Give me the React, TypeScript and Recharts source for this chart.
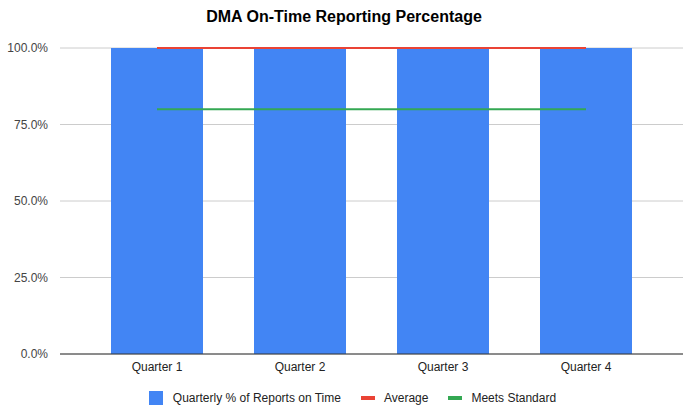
import React from "react";
import { ComposedChart, Bar, Line, XAxis, YAxis, CartesianGrid, Legend } from "recharts";

const quarters = ["Quarter 1", "Quarter 2", "Quarter 3", "Quarter 4"];
const onTime = [100, 100, 100, 100];
const average = [100, 100, 100, 100];
const meetsStandard = [80, 80, 80, 80];
const yTicks = [0, 25, 50, 75, 100];

const data = quarters.map((q, i) => ({
  name: q,
  onTime: onTime[i],
  average: average[i],
  standard: meetsStandard[i],
}));

const FONT = "'Liberation Sans', Arial, sans-serif";

const legendItems = [
  { label: "Quarterly % of Reports on Time", color: "#4285F4", kind: "box" },
  { label: "Average", color: "#EA4335", kind: "line" },
  { label: "Meets Standard", color: "#34A853", kind: "line" },
];

const renderLegend = () => (
  <div style={{ display: "flex", justifyContent: "center", alignItems: "center", fontFamily: FONT, fontSize: 12, color: "#222", marginLeft: 42, paddingTop: 4 }}>
    {legendItems.map((it) => (
      <div key={it.label} style={{ display: "flex", alignItems: "center", marginRight: 20 }}>
        {it.kind === "box" ? (
          <span style={{ display: "inline-block", width: 14, height: 14, background: it.color, marginRight: 10 }} />
        ) : (
          <span style={{ display: "inline-block", width: 14, height: 4, background: it.color, marginRight: 9 }} />
        )}
        <span>{it.label}</span>
      </div>
    ))}
  </div>
);

export default function App() {
  return (
    <div style={{ position: "absolute", left: 0, top: 0, width: 688, height: 408, background: "#fff" }}>
      <div style={{ position: "absolute", top: 8, left: 0, width: 688, textAlign: "center", fontFamily: FONT, fontWeight: "bold", fontSize: 16, color: "#000" }}>
        DMA On-Time Reporting Percentage
      </div>
      <ComposedChart width={688} height={408} data={data} margin={{ top: 48, right: 5, bottom: 1, left: 0 }} barCategoryGap={25.5}>
        <CartesianGrid vertical={false} stroke="#cccccc" />
        <XAxis
          dataKey="name"
          padding={{ left: 25.5, right: 25.5 }}
          tickLine={false}
          axisLine={{ stroke: "#333333" }}
          tick={{ fontFamily: FONT, fontSize: 12, fill: "#222" }}
          height={33}
        />
        <YAxis
          width={60}
          domain={[0, 100]}
          ticks={yTicks}
          tickFormatter={(v: number) => `${v.toFixed(1)}%`}
          axisLine={false}
          tickLine={false}
          tick={{ fontFamily: FONT, fontSize: 12, fill: "#444" }}
          tickMargin={6}
        />
        <Bar dataKey="onTime" name="Quarterly % of Reports on Time" fill="#4285F4" isAnimationActive={false} />
        <Line dataKey="average" name="Average" stroke="#EA4335" strokeWidth={2} dot={false} type="linear" isAnimationActive={false} />
        <Line dataKey="standard" name="Meets Standard" stroke="#34A853" strokeWidth={2} dot={false} type="linear" isAnimationActive={false} />
        <Legend verticalAlign="bottom" height={20} content={renderLegend} />
      </ComposedChart>
    </div>
  );
}
